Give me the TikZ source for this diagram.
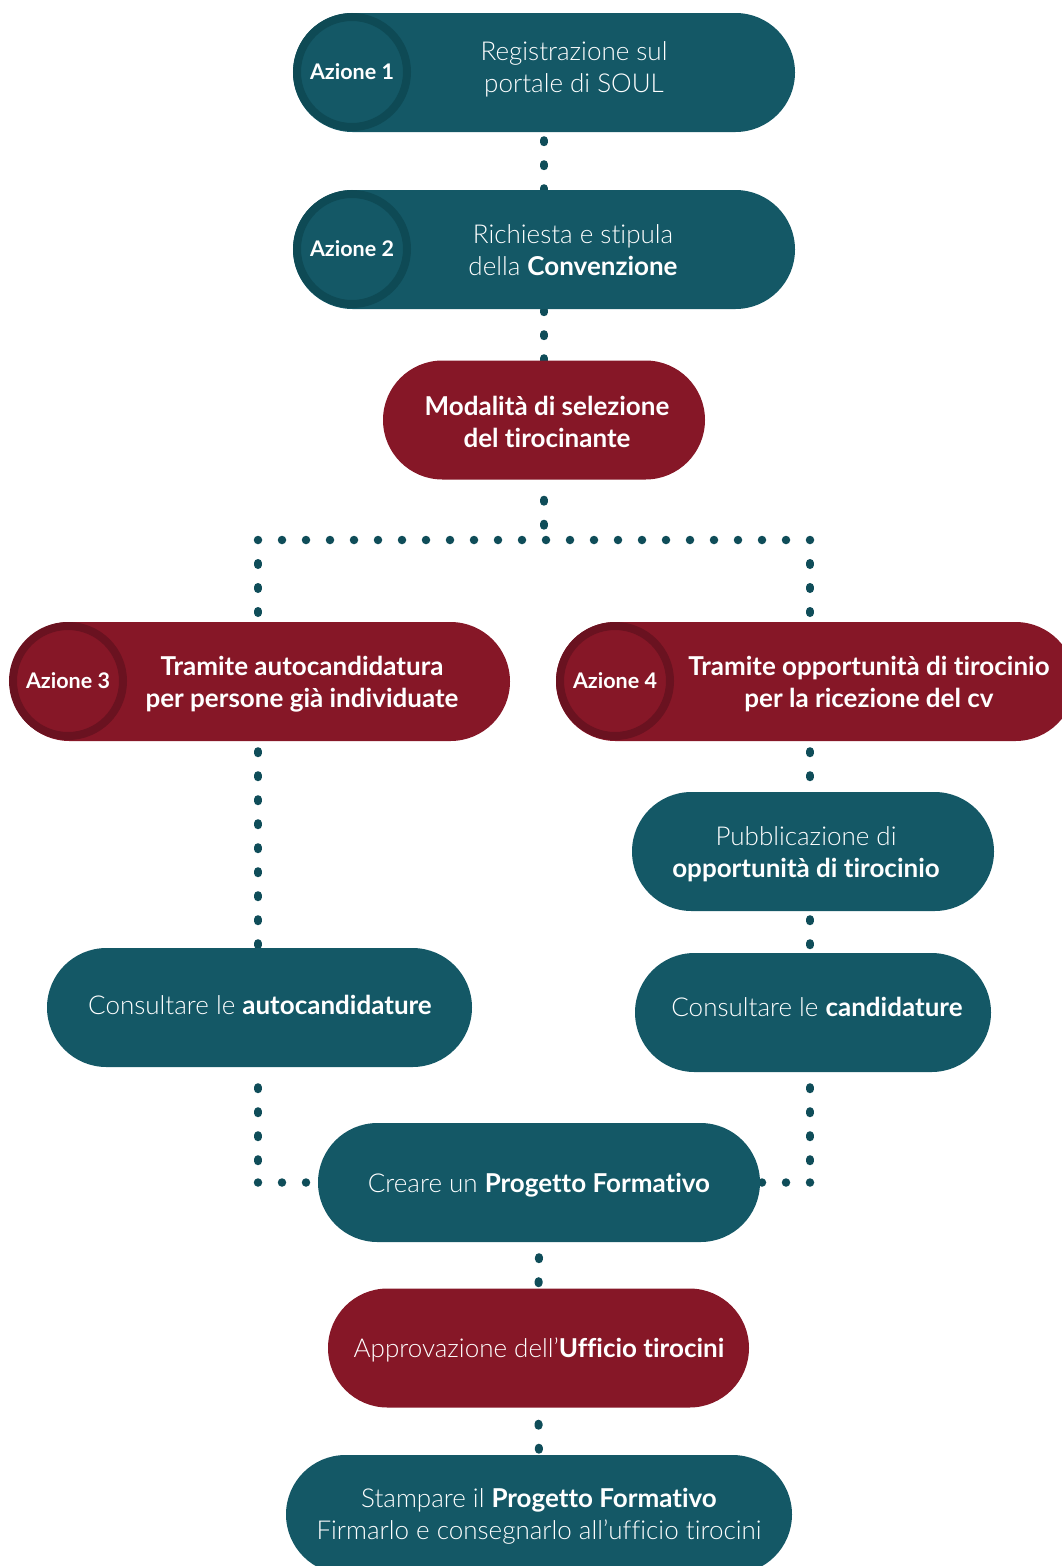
\documentclass[tikz,border=0pt]{standalone}
\usepackage{fontspec}
\setmainfont{Lato}[Ligatures=NoCommon]
\newfontfamily\lt{Lato Light}[Ligatures=NoCommon]
\usetikzlibrary{backgrounds,calc}
\definecolor{tealbox}{HTML}{145866}
\definecolor{tealring}{HTML}{0E4A55}
\definecolor{redbox}{HTML}{861727}
\definecolor{redring}{HTML}{6A1220}
\definecolor{dotc}{HTML}{0F4D59}
\newcommand\B[1]{{\rmfamily\bfseries #1}}
\tikzset{
  pill/.style={rectangle, rounded corners=59.5pt, minimum height=119pt, minimum width=#1, inner sep=0pt, text=white, align=center},
  tealpill/.style={pill=#1, fill=tealbox},
  redpill/.style={pill=#1, fill=redbox},
  ringt/.style={circle, fill=tealbox, draw=tealring, line width=8pt, minimum size=110pt, inner sep=0pt, text=white, font=\bfseries\fontsize{21.5}{24}\selectfont},
  ringr/.style={ringt, fill=redbox, draw=redring},
  lighttxt/.style={text=white, align=center, font=\lt\fontsize{26}{32}\selectfont},
  boldtxt/.style={text=white, align=center, font=\bfseries\fontsize{26}{32}\selectfont},
  dotline/.style={draw=dotc, line width=8.5pt, line cap=round, dash pattern=on 0pt off 24pt},
  vdotline/.style={draw=dotc, line width=8pt, line cap=round, dash pattern=on 2pt off 22pt}
}
\begin{document}
\begin{tikzpicture}[x=1pt, y=-1pt]
\useasboundingbox (0,0) rectangle (1061,1566);
% row 1
\node[tealpill=502pt] (a1) at (544,72.5) {};
\node[ringt] (c1) at (352,72) {Azione 1};
\node[lighttxt] (t1) at (574,69) {Registrazione sul\\portale di SOUL};
% row 2
\node[tealpill=502pt] (a2) at (544,249.5) {};
\node[ringt] (c2) at (352,249) {Azione 2};
\node[lighttxt] (t2) at (573,250) {Richiesta e stipula\\della \B{Convenzione}};
% modalita
\node[redpill=322pt] (mod) at (544,420) {};
\node[boldtxt] (tmod) at (547,422) {Modalità di selezione\\del tirocinante};
\coordinate (hm) at (544,540);
\coordinate (hl) at (258,540);
\coordinate (hr) at (810,540);
% azione 3
\node[redpill=500pt] (a3) at (260,681.5) {};
\node[ringr] (c3) at (68,681) {Azione 3};
\node[boldtxt] (t3) at (302,684) {Tramite autocandidatura\\per persone già individuate};
% azione 4
\node[redpill=519pt] (a4) at (815.5,681.5) {};
\node[ringr] (c4) at (615,681) {Azione 4};
\node[boldtxt] (t4) at (869,684) {Tramite opportunità di tirocinio\\per la ricezione del cv};
% right branch
\node[tealpill=362pt] (pub) at (813,851.5) {};
\node[lighttxt] (tpub) at (806,854) {Pubblicazione di\\\B{opportunità di tirocinio}};
\node[tealpill=356pt] (cca) at (813,1012.5) {};
\node[lighttxt] (tcca) at (817,1007) {Consultare le \B{candidature}};
% left branch
\node[tealpill=425pt] (cau) at (259.5,1007.5) {};
\node[lighttxt] (tcau) at (260,1005) {Consultare le \B{autocandidature}};
% bottom
\node[tealpill=442pt] (cre) at (539,1182.5) {};
\node[lighttxt] (tcre) at (539,1185) {Creare un \B{Progetto Formativo}};
\node[redpill=421pt] (app) at (538.5,1348) {};
\node[lighttxt] (tapp) at (539,1350) {Approvazione dell’\B{Ufficio tirocini}};
\node[tealpill=506pt] (sta) at (539,1514.5) {};
\node[lighttxt] (tsta) at (539,1516) {Stampare il \B{Progetto Formativo}\\Firmarlo e consegnarlo all’ufficio tirocini};
% connectors
\begin{pgfonlayer}{background}
\draw[vdotline] ($(a1.south)+(0,8)$) -- ($(a2.north)+(0,2)$);
\draw[vdotline] ($(a2.south)+(0,1)$) -- (mod.north);
\draw[vdotline] ($(mod.south)+(0,20)$) -- (hm);
\draw[dotline] (hl) -- (hr);
\draw[vdotline] ($(hl)+(0,23)$) -- (hl |- a3.north);
\draw[vdotline] ($(hr)+(0,23)$) -- (hr |- a4.north);
\draw[vdotline] ($(hl |- a3.south)+(0,10)$) -- (hl |- cau.north);
\draw[vdotline] ($(hr |- a4.south)+(0,10)$) -- (hr |- pub.north);
\draw[vdotline] ($(hr |- pub.south)+(0,8)$) -- (hr |- cca.north);
\draw[vdotline] ($(hl |- cau.south)+(0,20)$) -- ($(hl |- cre.west)+(0,-2)$);
\draw[dotline] (hl |- cre.west) -- (cre.west);
\draw[vdotline] ($(hr |- cca.south)+(0,15)$) -- ($(hr |- cre.east)+(0,-2)$);
\draw[dotline] (hr |- cre.east) -- (cre.east);
\draw[vdotline] ($(cre.south)+(0,15)$) -- (app.north);
\draw[vdotline] ($(app.south)+(0,16)$) -- (sta.north);
\end{pgfonlayer}
\end{tikzpicture}
\end{document}
